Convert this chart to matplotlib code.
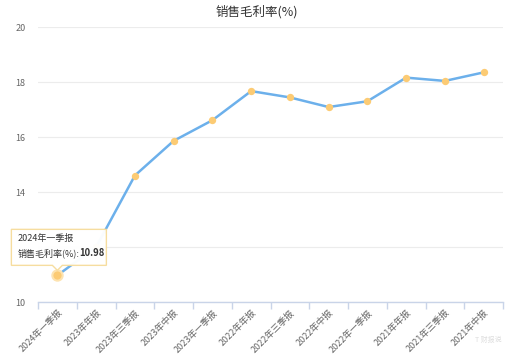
import matplotlib
matplotlib.use("Agg")
import matplotlib.pyplot as plt
from matplotlib.patches import Polygon
from matplotlib.transforms import IdentityTransform

plt.rcParams['font.family'] = ['Noto Sans CJK SC', 'DejaVu Sans']

# data
periods = ['2024年一季报', '2023年年报', '2023年三季报', '2023年中报', '2023年一季报',
           '2022年年报', '2022年三季报', '2022年中报', '2022年一季报',
           '2021年年报', '2021年三季报', '2021年中报']
gross_margin = [10.98, 12.01, 14.61, 15.87, 16.62, 17.68, 17.45, 17.10, 17.31,
                18.17, 18.05, 18.36]
y_ticks = [10, 12, 14, 16, 18, 20]
# the "12" label sits under the tooltip in the reference, so it is not shown
y_labels = ['10', '', '14', '16', '18', '20']
title = '销售毛利率(%)'
series_name = '销售毛利率(%)'

line_color = '#6cb0eb'
dot_color = '#fccb74'
grid_color = '#ececec'
axis_color = '#c9d4e8'
text_color = '#666666'

fig = plt.figure(figsize=(5.14, 3.55), dpi=100)
ax = fig.add_axes([38 / 514, 1 - 302.3 / 355, 465 / 514, 275 / 355])

x = list(range(len(periods)))
ax.plot(x, gross_margin, color=line_color, lw=1.8, zorder=3)
ax.scatter(x[1:], gross_margin[1:], s=28, color=dot_color, zorder=4, linewidths=0)
# hovered point is drawn a bit bigger
ax.scatter(x[:1], gross_margin[:1], s=55, color=dot_color, zorder=4,
           edgecolors='#fde3b0', linewidths=1.5)

ax.set_xlim(-0.5, len(periods) - 0.5)
ax.set_ylim(10, 20)
ax.set_yticks(y_ticks)
ax.set_yticklabels(y_labels)
ax.grid(axis='y', color=grid_color, lw=0.8)
ax.set_axisbelow(True)

for side in ['top', 'right', 'left']:
    ax.spines[side].set_visible(False)
ax.spines['bottom'].set_color(axis_color)
ax.spines['bottom'].set_linewidth(1.0)

ax.tick_params(axis='y', length=0, pad=9, labelsize=6.5, labelcolor=text_color)
ax.set_xticks([i + 0.5 for i in range(-1, len(periods))], minor=True)
ax.set_xticks(x)
ax.set_xticklabels(periods, rotation=45, ha='right', va='top',
                   rotation_mode='anchor', fontsize=6.5, color=text_color)
ax.tick_params(axis='x', which='major', length=0, pad=4)
ax.tick_params(axis='x', which='minor', length=5, color=axis_color, width=1.0)

fig.suptitle(title, y=0.985, fontsize=9, color='#333333')

# tooltip on the first point
fig.canvas.draw()
px, py = ax.transData.transform((x[0], gross_margin[0]))
left, right = px - 46, px + 49
bottom, top = py + 10, py + 46
tip = [(left, bottom), (px - 5, bottom), (px, bottom - 5), (px + 5, bottom),
       (right, bottom), (right, top), (left, top)]
ax.add_patch(Polygon(tip, closed=True, transform=IdentityTransform(),
                     facecolor='white', edgecolor='#f6dc9c', lw=1.0,
                     alpha=0.97, zorder=6, clip_on=False))
ax.text(left + 6, top - 5, periods[0], transform=IdentityTransform(),
        fontsize=6.5, color='#333333', va='top', ha='left', zorder=7)
lab = ax.text(left + 6, top - 19, series_name + ':', transform=IdentityTransform(),
              fontsize=6.5, color='#333333', va='top', ha='left', zorder=7)
fig.canvas.draw()
bb = lab.get_window_extent()
ax.text(bb.x1, top - 19, f'{gross_margin[0]:.2f}', transform=IdentityTransform(),
        fontsize=6.8, color='#333333', fontweight='bold', va='top', ha='left', zorder=7)

# faint watermark
fig.text(0.975, 0.03, 'T 财报说', fontsize=5, color='#dddddd', ha='right', va='bottom')

fig.savefig('out.png', dpi=100)
